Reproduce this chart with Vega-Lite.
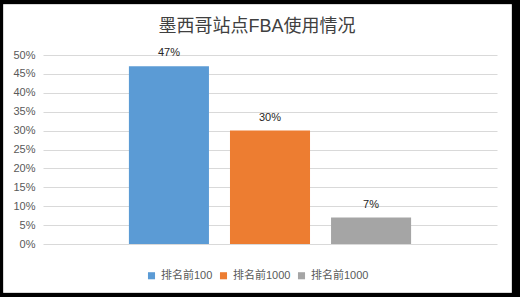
{
  "$schema": "https://vega.github.io/schema/vega-lite/v6.json",
  "autosize": {"type": "none"},
  "width": 508,
  "height": 288,
  "padding": {"left": 3, "top": 4, "right": 9, "bottom": 5},
  "background": "black",
  "title": {
    "text": "墨西哥站点FBA使用情况",
    "fontSize": 18,
    "fontWeight": "normal",
    "color": "#404040",
    "font": "Liberation Sans, Noto Sans CJK SC",
    "anchor": "middle",
    "offset": -32
  },
  "data": {
    "values": [
      {"序号": 1, "类别": "排名前100", "占比": 0.47},
      {"序号": 2, "类别": "排名前1000", "占比": 0.30},
      {"序号": 3, "类别": "排名前1000", "占比": 0.07}
    ]
  },
  "encoding": {
    "x": {
      "field": "序号",
      "type": "nominal",
      "axis": null,
      "scale": {"paddingInner": 0.208, "paddingOuter": 0.85, "range": [40, 494]}
    },
    "y": {
      "field": "占比",
      "type": "quantitative",
      "scale": {"domain": [0, 0.5], "range": [240, 51]},
      "axis": {
        "title": null,
        "format": ".0%",
        "values": [0, 0.05, 0.1, 0.15, 0.2, 0.25, 0.3, 0.35, 0.4, 0.45, 0.5],
        "domain": false,
        "ticks": false,
        "offset": -40,
        "labelPadding": 8,
        "labelFontSize": 11,
        "labelColor": "#595959",
        "labelFont": "Liberation Sans, Noto Sans CJK SC",
        "gridColor": "#d9d9d9",
        "gridWidth": 1
      }
    }
  },
  "layer": [
    {
      "mark": {"type": "bar"},
      "encoding": {
        "color": {
          "field": "序号",
          "type": "nominal",
          "scale": {"domain": [1, 2, 3], "range": ["#5B9BD5", "#ED7D31", "#A5A5A5"]},
          "legend": {
            "title": null,
            "orient": "bottom",
            "direction": "horizontal",
            "symbolType": "square",
            "symbolSize": 50,
            "symbolStrokeWidth": 0,
            "labelFontSize": 11,
            "labelColor": "#595959",
            "labelFont": "Liberation Sans, Noto Sans CJK SC",
            "labelExpr": "datum.value == 1 ? '排名前100' : '排名前1000'",
            "labelOffset": 4,
            "columnPadding": 5,
            "symbolOffset": 0,
            "offset": -22
          }
        }
      }
    },
    {
      "mark": {
        "type": "text",
        "baseline": "bottom",
        "dy": -8,
        "fontSize": 11,
        "color": "#262626",
        "font": "Liberation Sans, Noto Sans CJK SC"
      },
      "encoding": {
        "text": {"field": "占比", "type": "quantitative", "format": ".0%"}
      }
    }
  ],
  "config": {
    "view": {"stroke": "#d9d9d9", "fill": "white"},
    "legend": {"layout": {"bottom": {"anchor": "middle"}}}
  }
}
